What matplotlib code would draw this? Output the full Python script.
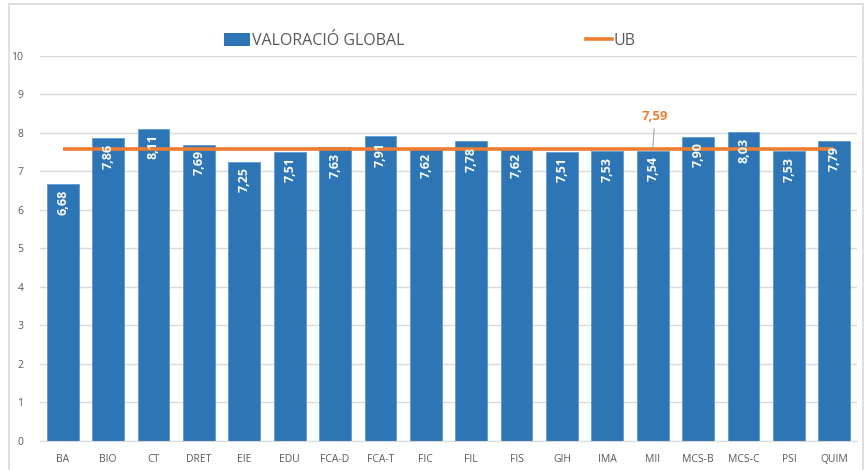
import numpy as np
import matplotlib.pyplot as plt
from matplotlib.patches import Rectangle
from matplotlib.lines import Line2D
from matplotlib.patches import Patch

categories = ['BA', 'BIO', 'CT', 'DRET', 'EIE', 'EDU', 'FCA-D', 'FCA-T', 'FIC',
              'FIL', 'FIS', 'GIH', 'IMA', 'MII', 'MCS-B', 'MCS-C', 'PSI', 'QUIM']
valoracio = [6.68, 7.86, 8.11, 7.69, 7.25, 7.51, 7.63, 7.91, 7.62,
             7.78, 7.62, 7.51, 7.53, 7.54, 7.90, 8.03, 7.53, 7.79]
ub = [7.59] * len(categories)
yticks = list(range(0, 11))

blue = '#2E75B6'
orange = '#ED7D31'
grey_txt = '#595959'

plt.rcParams['font.family'] = ['Open Sans', 'DejaVu Sans']

fig = plt.figure(figsize=(8.64, 4.70), dpi=100)
ax = fig.add_axes([0.0463, 0.0617, 0.9456, 0.8192])

x = np.arange(len(categories))
bars = ax.bar(x, valoracio, width=0.70, color=blue, edgecolor='#5B9BD5',
              linewidth=0.6, zorder=2)
ax.plot(x, ub, color=orange, lw=2.6, zorder=3, solid_capstyle='butt')

for xi, v in zip(x, valoracio):
    ax.annotate(f'{v:.2f}'.replace('.', ','), (xi, v), xytext=(0, -4),
                textcoords='offset points', rotation=90, ha='center', va='top',
                color='white', fontsize=9, fontweight='bold', zorder=4)

ax.annotate(f'{ub[13]:.2f}'.replace('.', ','), xy=(13, ub[13]), xytext=(13.05, 8.43),
            ha='center', va='center', color=orange, fontsize=9.5, fontweight='bold',
            arrowprops=dict(arrowstyle='-', color='#A6A6A6', lw=0.8,
                            shrinkA=2, shrinkB=0), zorder=5)

ax.set_xlim(-0.5, len(categories) - 0.5)
ax.set_ylim(0, 10)
ax.set_yticks(yticks)
ax.set_xticks(x)
ax.set_xticklabels(categories)
ax.tick_params(axis='both', length=0, labelsize=7.5, colors=grey_txt)
ax.tick_params(axis='x', pad=9)
ax.tick_params(axis='y', pad=12)
ax.grid(axis='y', color='#D9D9D9', lw=1, zorder=0)
ax.set_axisbelow(True)
for s in ['top', 'right', 'left']:
    ax.spines[s].set_visible(False)
ax.spines['bottom'].set_color('#D9D9D9')

handles = [Patch(facecolor=blue, label='VALORACIÓ GLOBAL'),
           Line2D([0], [0], color=orange, lw=2.6, label='UB')]
fig.legend(handles=handles, loc='center', bbox_to_anchor=(0.4977, 1 - 41 / 470),
           ncol=2, frameon=False, fontsize=11.5, handlelength=1.63,
           handleheight=0.8, handletextpad=0.1, columnspacing=11.4,
           labelcolor=grey_txt)

fig.patches.append(Rectangle((9 / 864, -0.02), 854 / 864, 1.012, transform=fig.transFigure,
                             fill=False, edgecolor='#D9D9D9', lw=1.2))

fig.savefig('out.png', dpi=100)
